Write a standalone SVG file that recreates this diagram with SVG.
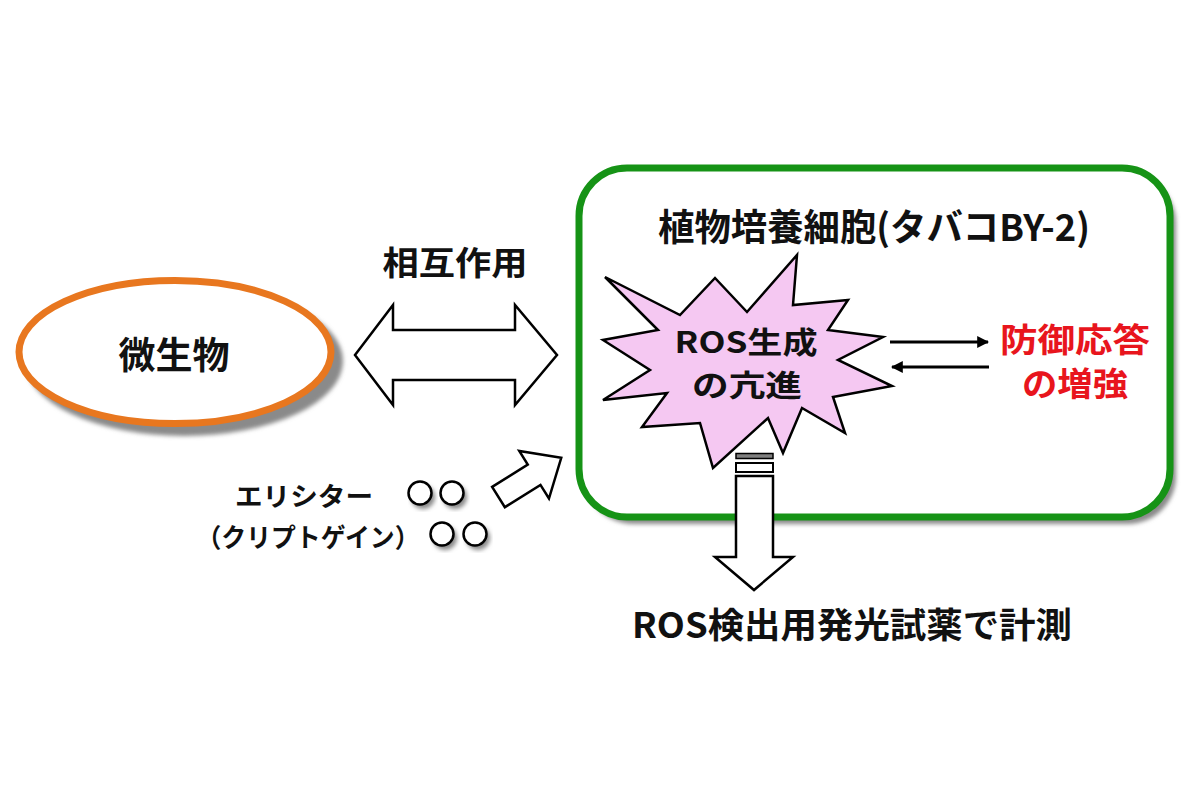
<svg xmlns="http://www.w3.org/2000/svg" width="1200" height="800" viewBox="0 0 1200 800">
  <defs>
    <style>
      text { font-family: "Noto Sans CJK JP", "Noto Sans", sans-serif; fill: #111; text-anchor: middle; font-weight: bold; }
      .red { fill: #E8151D; }
      .shape { fill: #fff; stroke: #000; stroke-width: 2.5; stroke-linejoin: miter; }
      .shadow { fill: #8a8a8a; filter: url(#blur); }
    </style>
    <filter id="blur" x="-10%" y="-10%" width="120%" height="120%">
      <feGaussianBlur stdDeviation="2"/>
    </filter>
    <marker id="ah" viewBox="0 0 10 10" refX="9" refY="5" markerWidth="4" markerHeight="4" orient="auto-start-reverse" markerUnits="strokeWidth">
      <path d="M0,0 L10,5 L0,10 Z" fill="#000"/>
    </marker>
  </defs>
  <rect width="1200" height="800" fill="#fff"/>

  <g id="microbe">
    <ellipse class="shadow" cx="184" cy="361" rx="159" ry="75"/>
    <ellipse cx="175" cy="352" rx="156" ry="71.5" fill="#fff" stroke="#E8771F" stroke-width="7"/>
    <text x="174" y="369" font-size="37">微生物</text>
  </g>

  <g id="plant-cell">
    <rect class="shadow" x="585" y="175" width="591" height="349" rx="48"/>
    <rect x="579" y="168" width="591" height="349" rx="48" fill="#fff" stroke="#169316" stroke-width="7"/>
    <text x="874" y="241" font-size="37" textLength="432" lengthAdjust="spacingAndGlyphs">植物培養細胞(タバコBY-2)</text>
  </g>

  <g id="ros-burst">
    <polygon points="605,277 680,315 715,278 747,312 797,255 793,305 848,300 828,330 883,337 838,360 892,386 833,397 845,433 802,408 783,453 768,418 713,468 700,423 642,427 667,393 603,400 650,370 603,340 658,330" fill="#F5C8F2" stroke="#000" stroke-width="2.5" stroke-linejoin="miter"/>
    <text x="746" y="353" font-size="30" textLength="143" lengthAdjust="spacingAndGlyphs">ROS生成</text>
    <text x="747" y="396" font-size="30" textLength="110" lengthAdjust="spacingAndGlyphs">の亢進</text>
  </g>

  <g id="defense">
    <text class="red" x="1075" y="352" font-size="33" textLength="150" lengthAdjust="spacingAndGlyphs">防御応答</text>
    <text class="red" x="1075" y="396" font-size="33" textLength="106" lengthAdjust="spacingAndGlyphs">の増強</text>
  </g>

  <g id="interaction-label">
    <text x="455" y="275" font-size="33" textLength="145" lengthAdjust="spacingAndGlyphs">相互作用</text>
  </g>

  <g id="elicitor">
    <text x="304" y="506" font-size="26" textLength="138" lengthAdjust="spacingAndGlyphs">エリシター</text>
    <text x="308" y="547" font-size="26" textLength="223" lengthAdjust="spacingAndGlyphs">（クリプトゲイン）</text>
    <g>
      <circle class="shadow" cx="423" cy="497" r="12"/>
      <circle class="shadow" cx="455" cy="497" r="12"/>
      <circle class="shadow" cx="445" cy="538" r="12"/>
      <circle class="shadow" cx="478" cy="538" r="12"/>
      <circle class="shape" cx="420" cy="493" r="11.5"/>
      <circle class="shape" cx="452" cy="493" r="11.5"/>
      <circle class="shape" cx="442" cy="534" r="11.5"/>
      <circle class="shape" cx="475" cy="534" r="11.5"/>
    </g>
  </g>

  <g id="measurement">
    <text x="852" y="638" font-size="35" textLength="440" lengthAdjust="spacingAndGlyphs">ROS検出用発光試薬で計測</text>
  </g>

  <g id="connectors">
    <polygon class="shape" points="355,355 393,305 393,330 515,330 515,305 557,355 515,405 515,380 393,380 393,405"/>
    <polygon class="shape" transform="translate(498.5,497) rotate(-32)" points="0,-12 42,-12 42,-28 74,0 42,28 42,12 0,12"/>
    <line x1="890" y1="342" x2="988" y2="342" stroke="#000" stroke-width="3" marker-end="url(#ah)"/>
    <line x1="989" y1="367" x2="892" y2="367" stroke="#000" stroke-width="3" marker-end="url(#ah)"/>
    <rect x="736" y="453.5" width="37" height="5" fill="#808080" stroke="#000" stroke-width="1.5"/>
    <rect x="736" y="463" width="37" height="9" fill="#fff" stroke="#000" stroke-width="2"/>
    <polygon class="shape" points="736,476 773,476 773,557 793,557 754,590 715,557 736,557"/>
  </g>
</svg>
